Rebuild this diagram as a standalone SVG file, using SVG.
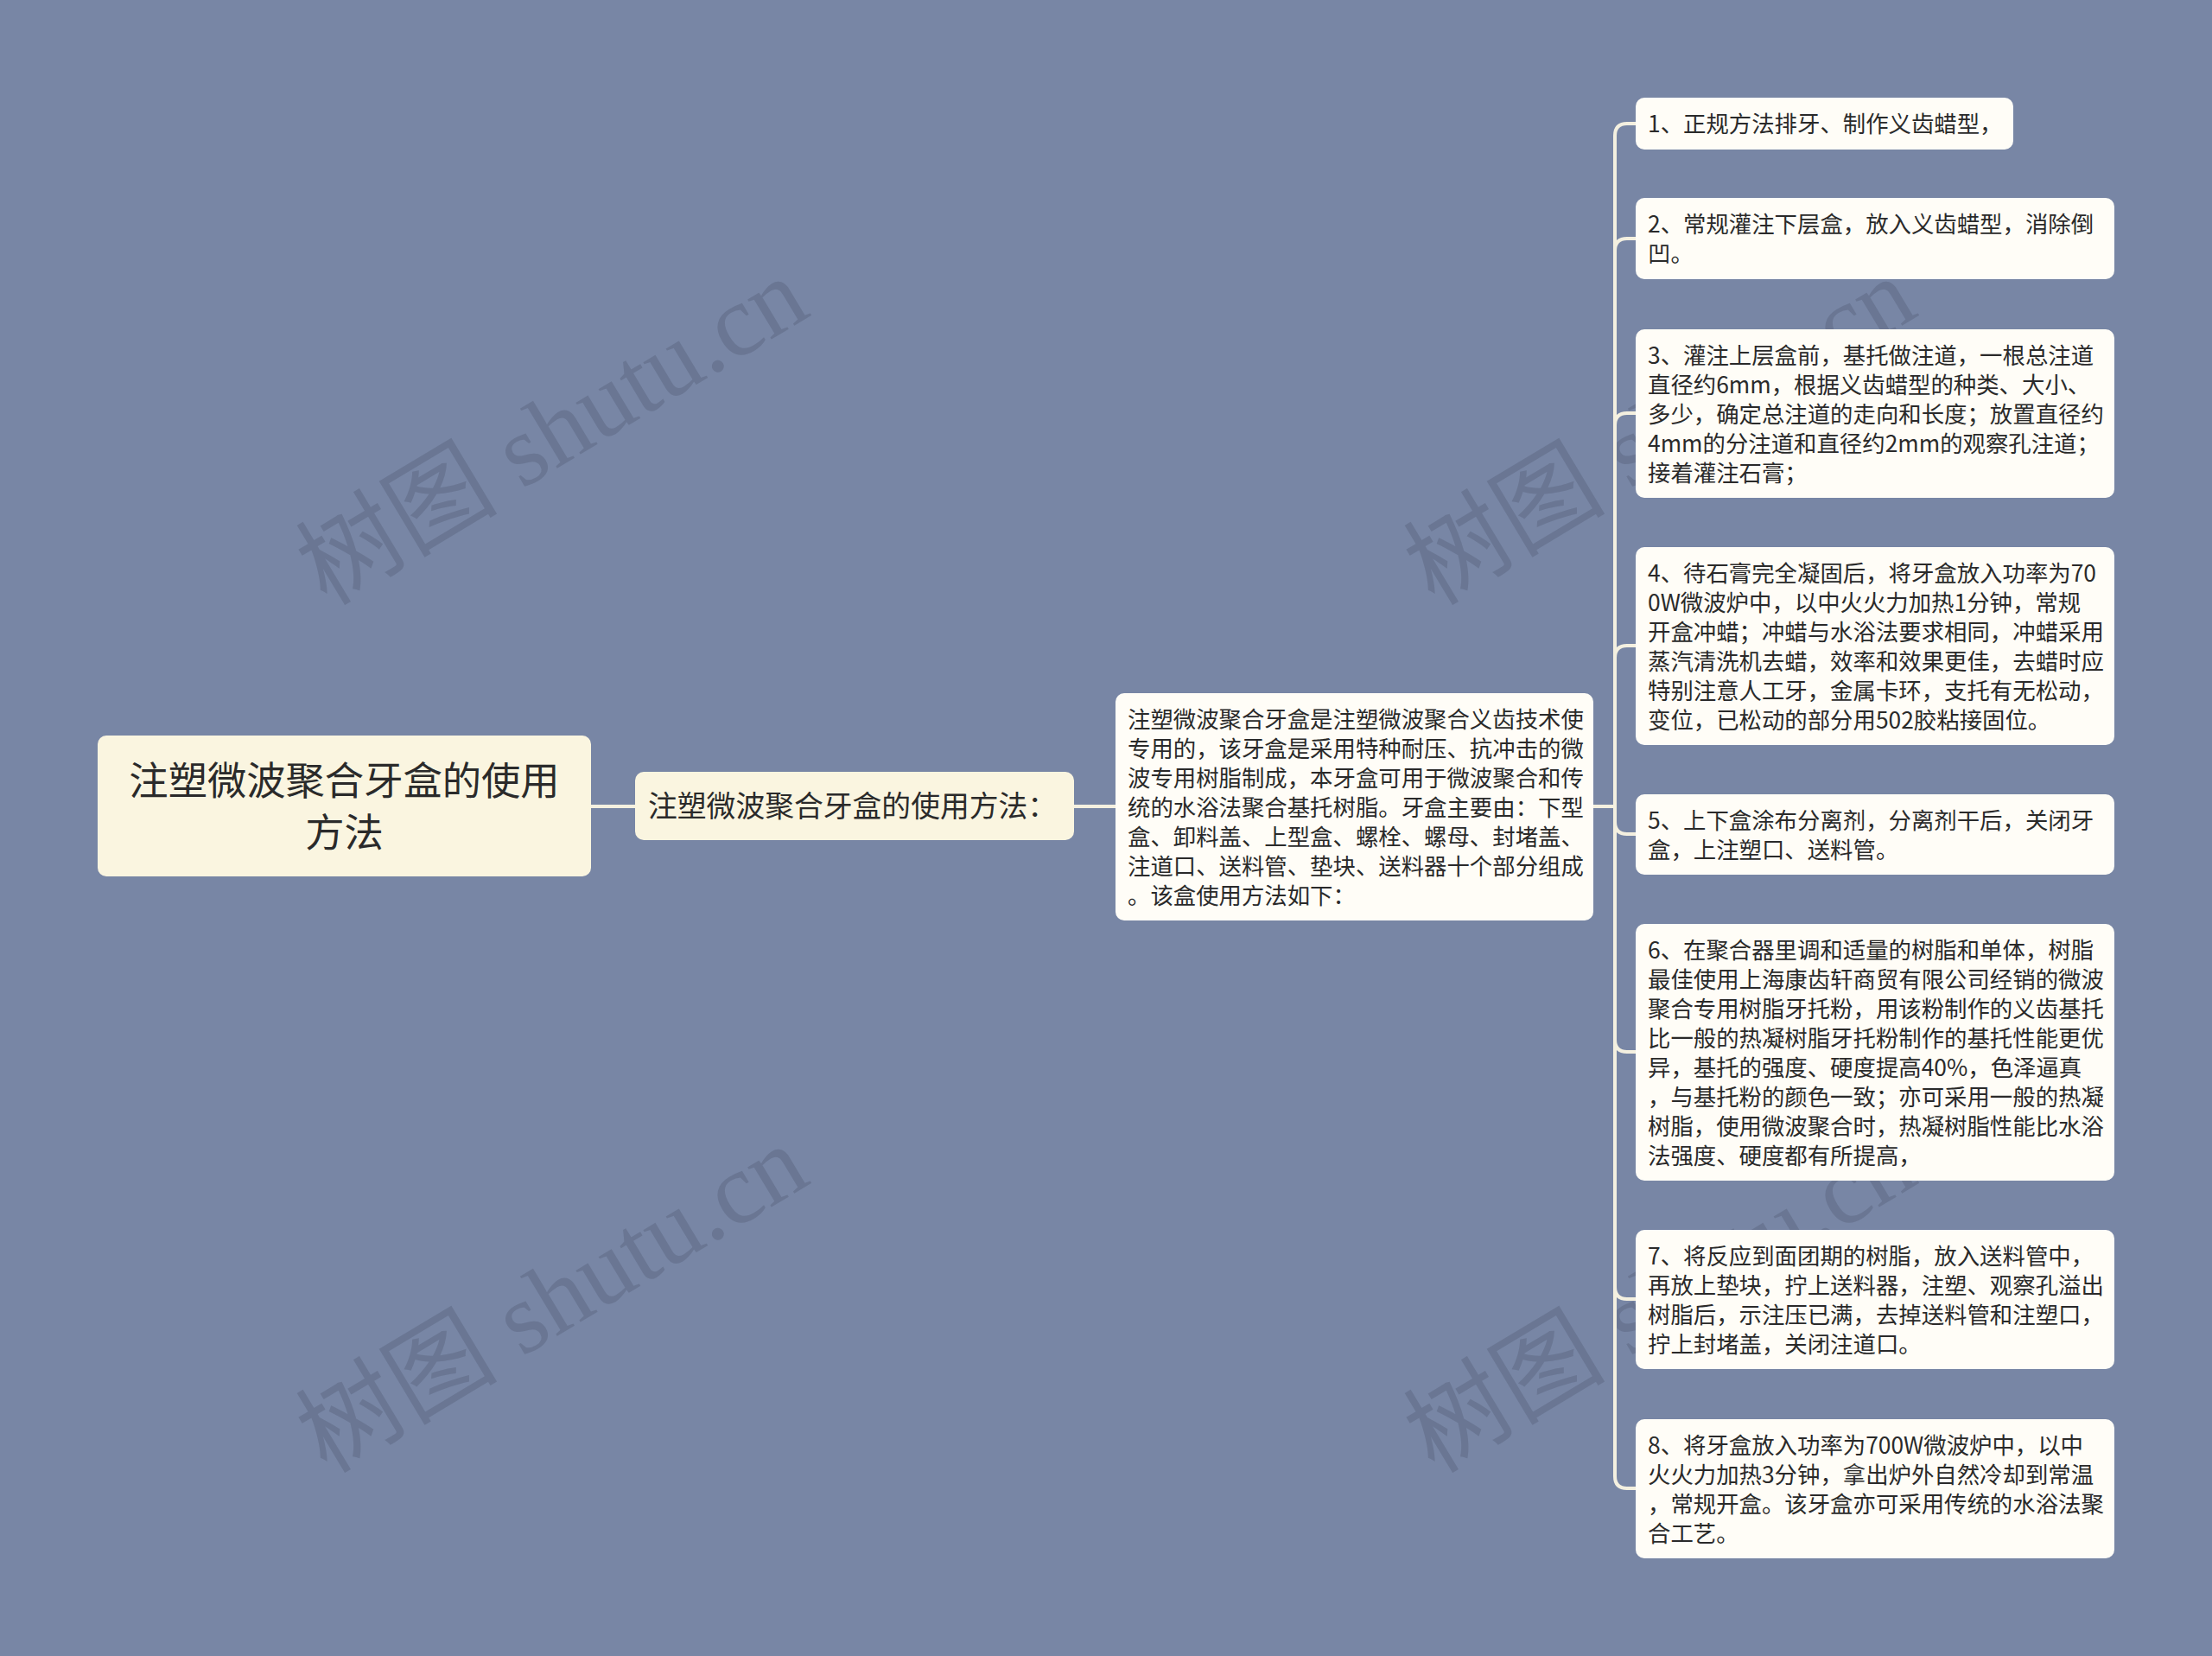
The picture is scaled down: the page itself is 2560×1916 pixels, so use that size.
<svg xmlns="http://www.w3.org/2000/svg" width="2560" height="1916" viewBox="0 0 2560 1916">
<style>
.bg{fill:#7886a5}
.wm{font-family:"Liberation Serif","Noto Sans CJK SC",serif;font-size:117px;fill:#67738f;opacity:0.8}
.root{fill:#faf5e0}
.lv1{fill:#faf5e0}
.leaf{fill:#fffdf7}
.t{font-family:"Noto Sans CJK SC","Noto Sans",sans-serif;fill:#2a2a2a}
.t26{font-size:26.4px}
.t32{font-size:33.8px}
.t45{font-size:45.3px}
.conn{fill:none;stroke:#f4f0e0;stroke-width:4;stroke-linecap:round}
</style>
<rect class="bg" x="0" y="0" width="2560" height="1916"/>
<g id="watermarks">
<text class="wm" transform="translate(378,702) rotate(-31)">树图 shutu.cn</text>
<text class="wm" transform="translate(378,1706) rotate(-31)">树图 shutu.cn</text>
<text class="wm" transform="translate(1660,702) rotate(-31)">树图 shutu.cn</text>
<text class="wm" transform="translate(1660,1706) rotate(-31)">树图 shutu.cn</text>
</g>
<g id="connectors">
<path class="conn" d="M684,933 H735"/>
<path class="conn" d="M1243,933 H1291"/>
<path class="conn" d="M1844,933 H1869 V157 Q1869,143 1883,143 H1893"/>
<path class="conn" d="M1844,933 H1869 V290 Q1869,276 1883,276 H1893"/>
<path class="conn" d="M1844,933 H1869 V492 Q1869,478 1883,478 H1893"/>
<path class="conn" d="M1844,933 H1869 V761 Q1869,747 1883,747 H1893"/>
<path class="conn" d="M1844,933 H1869 V951 Q1869,965 1883,965 H1893"/>
<path class="conn" d="M1844,933 H1869 V1203 Q1869,1217 1883,1217 H1893"/>
<path class="conn" d="M1844,933 H1869 V1489 Q1869,1503 1883,1503 H1893"/>
<path class="conn" d="M1844,933 H1869 V1708 Q1869,1722 1883,1722 H1893"/>
</g>
<g id="root">
<rect class="root" x="113" y="851" width="571" height="163" rx="10"/>
<text class="t t45" text-anchor="middle"><tspan x="398.5" y="920">注塑微波聚合牙盒的使用</tspan><tspan x="398.5" y="980">方法</tspan></text>
</g>
<g id="n1">
<rect class="lv1" x="735" y="893" width="508" height="79" rx="10"/>
<text class="t t32" x="750" y="945">注塑微波聚合牙盒的使用方法：</text>
</g>
<g id="n2">
<rect class="leaf" x="1291" y="802" width="553" height="263" rx="10"/>
<text class="t t26"><tspan x="1305" y="842">注塑微波聚合牙盒是注塑微波聚合义齿技术使</tspan><tspan x="1305" y="876">专用的，该牙盒是采用特种耐压、抗冲击的微</tspan><tspan x="1305" y="910">波专用树脂制成，本牙盒可用于微波聚合和传</tspan><tspan x="1305" y="944">统的水浴法聚合基托树脂。牙盒主要由：下型</tspan><tspan x="1305" y="978">盒、卸料盖、上型盒、螺栓、螺母、封堵盖、</tspan><tspan x="1305" y="1012">注道口、送料管、垫块、送料器十个部分组成</tspan><tspan x="1305" y="1046">。该盒使用方法如下：</tspan></text>
</g>
<g id="leaf1">
<rect class="leaf" x="1893" y="113" width="437" height="60" rx="10"/>
<text class="t t26"><tspan x="1907" y="153">1、正规方法排牙、制作义齿蜡型，</tspan></text>
</g>
<g id="leaf2">
<rect class="leaf" x="1893" y="229" width="554" height="94" rx="10"/>
<text class="t t26"><tspan x="1907" y="269">2、常规灌注下层盒，放入义齿蜡型，消除倒</tspan><tspan x="1907" y="303">凹。</tspan></text>
</g>
<g id="leaf3">
<rect class="leaf" x="1893" y="381" width="554" height="195" rx="10"/>
<text class="t t26"><tspan x="1907" y="421">3、灌注上层盒前，基托做注道，一根总注道</tspan><tspan x="1907" y="455">直径约6mm，根据义齿蜡型的种类、大小、</tspan><tspan x="1907" y="489">多少，确定总注道的走向和长度；放置直径约</tspan><tspan x="1907" y="523">4mm的分注道和直径约2mm的观察孔注道；</tspan><tspan x="1907" y="557">接着灌注石膏；</tspan></text>
</g>
<g id="leaf4">
<rect class="leaf" x="1893" y="633" width="554" height="229" rx="10"/>
<text class="t t26"><tspan x="1907" y="673">4、待石膏完全凝固后，将牙盒放入功率为70</tspan><tspan x="1907" y="707">0W微波炉中，以中火火力加热1分钟，常规</tspan><tspan x="1907" y="741">开盒冲蜡；冲蜡与水浴法要求相同，冲蜡采用</tspan><tspan x="1907" y="775">蒸汽清洗机去蜡，效率和效果更佳，去蜡时应</tspan><tspan x="1907" y="809">特别注意人工牙，金属卡环，支托有无松动，</tspan><tspan x="1907" y="843">变位，已松动的部分用502胶粘接固位。</tspan></text>
</g>
<g id="leaf5">
<rect class="leaf" x="1893" y="919" width="554" height="93" rx="10"/>
<text class="t t26"><tspan x="1907" y="959">5、上下盒涂布分离剂，分离剂干后，关闭牙</tspan><tspan x="1907" y="993">盒，上注塑口、送料管。</tspan></text>
</g>
<g id="leaf6">
<rect class="leaf" x="1893" y="1069" width="554" height="297" rx="10"/>
<text class="t t26"><tspan x="1907" y="1109">6、在聚合器里调和适量的树脂和单体，树脂</tspan><tspan x="1907" y="1143">最佳使用上海康齿轩商贸有限公司经销的微波</tspan><tspan x="1907" y="1177">聚合专用树脂牙托粉，用该粉制作的义齿基托</tspan><tspan x="1907" y="1211">比一般的热凝树脂牙托粉制作的基托性能更优</tspan><tspan x="1907" y="1245">异，基托的强度、硬度提高40%，色泽逼真</tspan><tspan x="1907" y="1279">，与基托粉的颜色一致；亦可采用一般的热凝</tspan><tspan x="1907" y="1313">树脂，使用微波聚合时，热凝树脂性能比水浴</tspan><tspan x="1907" y="1347">法强度、硬度都有所提高，</tspan></text>
</g>
<g id="leaf7">
<rect class="leaf" x="1893" y="1423" width="554" height="161" rx="10"/>
<text class="t t26"><tspan x="1907" y="1463">7、将反应到面团期的树脂，放入送料管中，</tspan><tspan x="1907" y="1497">再放上垫块，拧上送料器，注塑、观察孔溢出</tspan><tspan x="1907" y="1531">树脂后，示注压已满，去掉送料管和注塑口，</tspan><tspan x="1907" y="1565">拧上封堵盖，关闭注道口。</tspan></text>
</g>
<g id="leaf8">
<rect class="leaf" x="1893" y="1642" width="554" height="161" rx="10"/>
<text class="t t26"><tspan x="1907" y="1682">8、将牙盒放入功率为700W微波炉中，以中</tspan><tspan x="1907" y="1716">火火力加热3分钟，拿出炉外自然冷却到常温</tspan><tspan x="1907" y="1750">，常规开盒。该牙盒亦可采用传统的水浴法聚</tspan><tspan x="1907" y="1784">合工艺。</tspan></text>
</g>
</svg>
